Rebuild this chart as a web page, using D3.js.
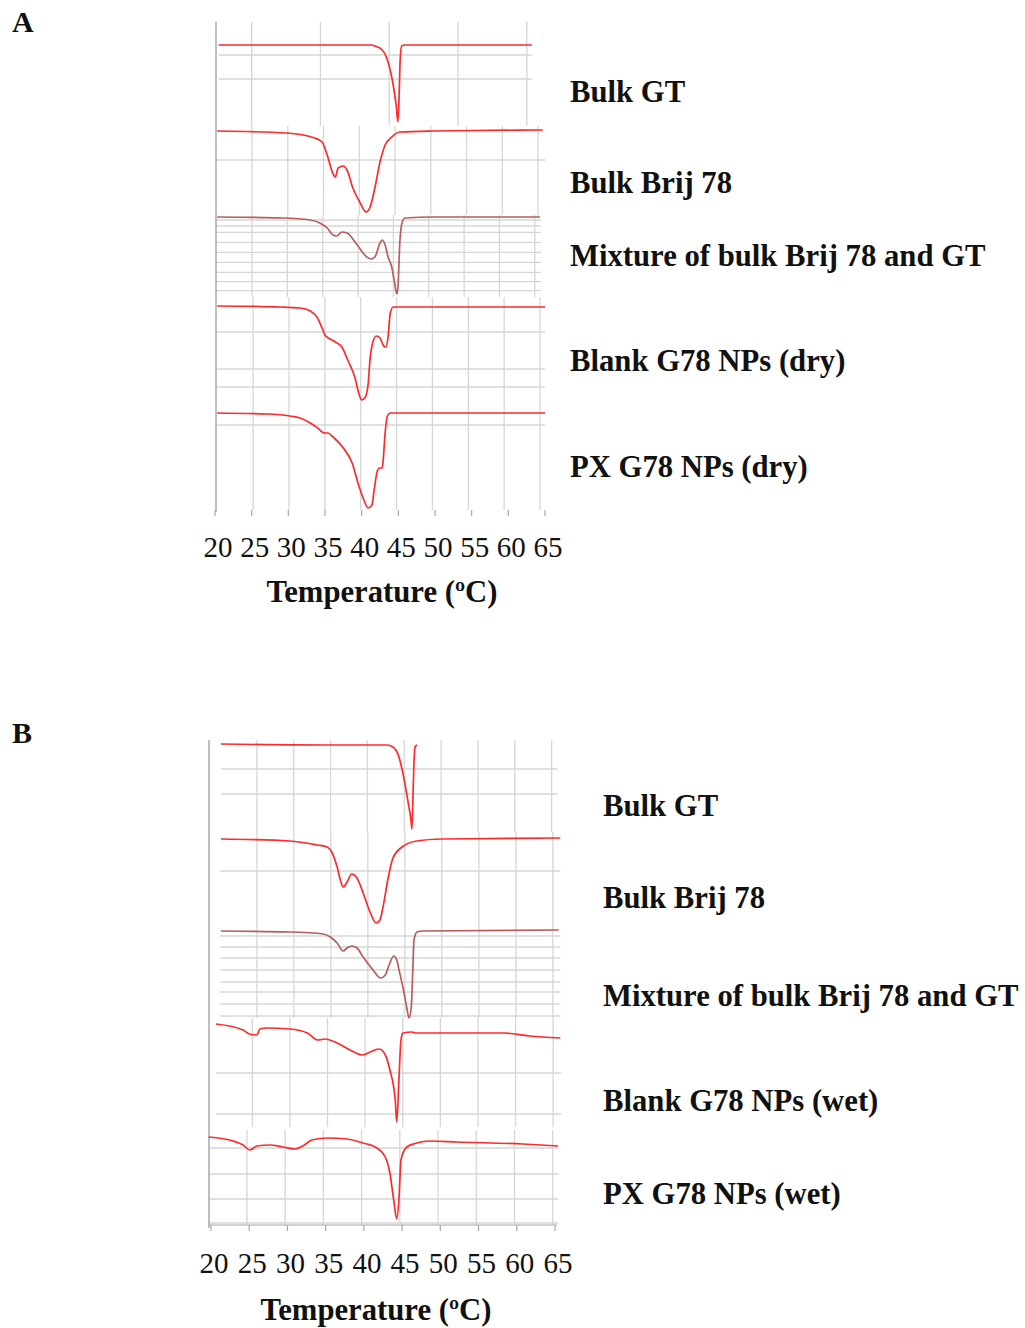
<!DOCTYPE html>
<html><head><meta charset="utf-8">
<script src="https://cdn.jsdelivr.net/npm/d3@7"></script>
<style>body{margin:0;background:#fff;} svg{display:block;}</style>
</head><body><svg id="chart" width="1025" height="1328"></svg>
<script>
// ---------------- DATA ----------------
const tickValues = [20, 25, 30, 35, 40, 45, 50, 55, 60, 65];
const panelLetters = ["A", "B"];
const axisTitle = "Temperature (ºC)";
const samplesDry = ["Bulk GT", "Bulk Brij 78", "Mixture of bulk Brij 78 and GT", "Blank G78 NPs (dry)", "PX G78 NPs (dry)"];
const samplesWet = ["Bulk GT", "Bulk Brij 78", "Mixture of bulk Brij 78 and GT", "Blank G78 NPs (wet)", "PX G78 NPs (wet)"];

// Panel A (temperature °C, heat flow arbitrary units, endo down)
const tempA_GT   = [20.5, 31.6, 38.7, 41.4, 41.8, 42.8, 43.6, 44.3, 44.7, 44.95, 45.15, 45.25, 45.45, 45.9, 63.2];
const flowA_GT   = [0, 0, 0, 0, -0.1, -0.5, -1.7, -4.0, -6.0, -7.7, -4.0, -1.5, -0.1, 0, 0];
const tempA_Brij = [20.3, 29.8, 33.6, 34.6, 35.3, 36.0, 36.4, 36.8, 37.5, 38.0, 38.8, 39.8, 40.6, 41.1, 41.8, 42.5, 43.2, 44.1, 45.2, 49.7, 64.7];
const flowA_Brij = [0, -0.2, -0.7, -1.1, -2.4, -4.1, -4.6, -3.7, -3.5, -3.9, -5.7, -7.2, -8.1, -7.7, -5.7, -3.1, -1.4, -0.6, -0.1, 0, 0.1];
const tempA_Mix  = [20.3, 29.3, 33.0, 34.3, 35.3, 36.1, 36.6, 37.3, 38.0, 39.4, 40.7, 41.3, 41.8, 42.5, 42.8, 43.2, 43.6, 44.1, 44.5, 44.8, 44.95, 45.2, 45.5, 45.9, 49.7, 64.3];
const flowA_Mix  = [0, -0.1, -0.3, -0.6, -1.1, -1.8, -1.9, -1.5, -1.6, -2.8, -4.0, -4.2, -4.0, -2.6, -2.3, -2.8, -4.0, -5.0, -6.6, -7.7, -7.0, -2.6, -0.6, -0.1, 0, 0];
const tempA_Blank = [20.3, 28.9, 31.6, 33.0, 33.9, 34.6, 35.0, 35.7, 36.4, 37.3, 38.1, 39.1, 39.6, 40.0, 40.5, 40.9, 41.1, 41.5, 42.0, 42.5, 43.0, 43.3, 43.6, 43.9, 44.3, 44.8, 65.0];
const flowA_Blank = [0, -0.1, -0.2, -0.5, -1.1, -2.2, -2.9, -3.3, -3.6, -4.1, -5.4, -7.2, -8.7, -9.4, -9.1, -7.7, -5.7, -3.7, -3.0, -3.2, -4.0, -4.1, -3.1, -0.7, -0.1, -0.1, -0.1];
const tempA_PX   = [20.3, 27.1, 30.2, 31.6, 33.0, 34.0, 34.9, 35.4, 36.1, 37.5, 38.7, 39.5, 40.2, 40.9, 41.4, 41.7, 42.1, 42.4, 42.8, 42.9, 43.2, 43.5, 43.9, 49.7, 65.0];
const flowA_PX   = [0, -0.1, -0.3, -0.5, -1.0, -1.5, -2.0, -2.0, -2.4, -3.5, -5.0, -7.0, -8.5, -9.5, -9.2, -7.7, -5.9, -5.5, -5.5, -5.0, -2.0, -0.3, 0, 0, 0];

// Panel B
const tempB_GT   = [21.3, 34.7, 40.1, 43.0, 43.8, 44.5, 45.1, 45.8, 46.16, 46.29, 46.42, 46.55, 46.69, 46.95];
const flowB_GT   = [0, -0.1, -0.1, -0.1, -0.3, -1.1, -2.9, -5.9, -7.6, -8.5, -5.3, -1.9, -0.3, -0.1];
const tempB_Brij = [21.3, 30.3, 33.9, 35.2, 35.8, 36.5, 37.0, 37.3, 37.8, 38.4, 39.1, 39.9, 40.8, 41.6, 42.1, 42.5, 43.2, 43.8, 45.0, 46.9, 50.3, 65.7];
const flowB_Brij = [0, -0.2, -0.6, -0.8, -1.3, -2.8, -4.3, -4.8, -4.3, -3.5, -3.9, -5.4, -7.3, -8.4, -8.1, -6.8, -3.8, -1.9, -0.8, -0.2, 0, 0.1];
const tempB_Mix  = [21.3, 30.3, 34.7, 35.6, 36.5, 37.3, 37.8, 38.4, 39.1, 39.9, 41.2, 42.2, 42.8, 43.3, 43.9, 44.3, 44.6, 45.1, 45.6, 45.9, 46.2, 46.4, 46.55, 46.95, 47.7, 65.5];
const flowB_Mix  = [0, -0.1, -0.3, -0.6, -1.2, -2.0, -1.7, -1.5, -1.7, -2.6, -3.9, -4.7, -4.4, -3.4, -2.5, -2.9, -3.9, -5.6, -7.6, -8.7, -7.6, -3.9, -0.9, -0.1, 0, 0.1];
const tempB_Blank = [20.65, 24.2, 25.0, 26.0, 26.4, 27.3, 30.3, 32.6, 34.0, 34.9, 36.5, 38.2, 39.8, 41.1, 42.0, 42.8, 43.4, 44.1, 44.3, 44.6, 44.85, 45.1, 46.3, 46.7, 47.7, 58.2, 61.7, 65.7];
const flowB_Blank = [0.9, 0.3, -0.1, -0.2, 0.4, 0.5, 0.4, 0, -0.7, -0.6, -1.0, -1.7, -2.2, -1.8, -1.6, -2.2, -3.7, -6.7, -8.9, -4.4, -0.7, 0, 0.1, 0, 0, 0, -0.3, -0.5];
const tempB_PX   = [19.7, 22.9, 24.2, 25.1, 26.0, 27.7, 29.4, 31.0, 32.0, 33.2, 35.2, 37.8, 39.9, 41.7, 42.8, 43.4, 43.9, 44.3, 44.6, 44.85, 45.6, 46.9, 48.6, 52.2, 60.8, 65.4];
const flowB_PX   = [0.5, 0.1, -0.3, -0.8, -0.4, -0.3, -0.5, -0.7, -0.4, 0.2, 0.4, 0.3, -0.1, -0.6, -1.5, -3.1, -5.8, -7.7, -5.5, -1.8, -0.5, -0.1, 0.1, 0, -0.2, -0.4];

// ---------------- LAYOUT ----------------
const RED = "#ff2a2a", MIXC = "#b85c5c", GRID = "#d6d6d6", AXIS = "#a8a8a8";
const panels = [
  { letter: panelLetters[0], letterY: 32, xRange: [215, 545], axisX: 216, axisTop: 22, axisBottom: 512,
    tickTop: 510, tickBottom: 516, bottomLine: false, tickLabelY: 557, titleX: 382, titleY: 602, labelX: 570,
    subs: [
      { name: samplesDry[0], t: tempA_GT, f: flowA_GT, base: 45, top: 22, bottom: 126, ext: [20.5, 63.2], hGrid: [-1.0, -3.4], vStart: 25.0, vStep: 9.38, vCount: 5, labelY: 102, color: RED },
      { name: samplesDry[1], t: tempA_Brij, f: flowA_Brij, base: 131, top: 126, bottom: 215, ext: [20.1, 65], hGrid: [-2.9], vStart: 25.05, vStep: 4.875, vCount: 9, labelY: 193, color: RED },
      { name: samplesDry[2], t: tempA_Mix, f: flowA_Mix, base: 217, top: 215, bottom: 297, ext: [20.1, 64.45], hGrid: [-0.3, -0.9, -1.53, -2.53, -3.53, -4.53, -5.53, -6.47, -7.37], vStart: 25.05, vStep: 4.82, vCount: 9, labelY: 266, color: MIXC },
      { name: samplesDry[3], t: tempA_Blank, f: flowA_Blank, base: 306, top: 297, bottom: 403, ext: [20.1, 65], hGrid: [-2.6, -6.3, -8.1], vStart: 25.2, vStep: 4.89, vCount: 9, labelY: 371, color: RED },
      { name: samplesDry[4], t: tempA_PX, f: flowA_PX, base: 413, top: 403, bottom: 510, ext: [20.1, 65], hGrid: [-1.2], vStart: 25.2, vStep: 4.89, vCount: 9, labelY: 477, color: RED }
    ] },
  { letter: panelLetters[1], letterY: 743, xRange: [211, 555], axisX: 209, axisTop: 740, axisBottom: 1228,
    tickTop: 1225, tickBottom: 1231, bottomLine: true, tickLabelY: 1273, titleX: 376, titleY: 1320, labelX: 603,
    subs: [
      { name: samplesWet[0], t: tempB_GT, f: flowB_GT, base: 744, top: 740, bottom: 832, ext: [21.3, 65.3], hGrid: [-2.5, -5.0], vStart: 26.0, vStep: 4.82, vCount: 9, labelY: 816, color: RED },
      { name: samplesWet[1], t: tempB_Brij, f: flowB_Brij, base: 839, top: 832, bottom: 925, ext: [21.2, 65.7], hGrid: [-3.2], vStart: 26.0, vStep: 4.84, vCount: 9, labelY: 908, color: RED },
      { name: samplesWet[2], t: tempB_Mix, f: flowB_Mix, base: 931, top: 925, bottom: 1018, ext: [21.2, 65.7], hGrid: [-0.5, -1.6, -2.7, -3.9, -5.1, -6.1, -7.3, -8.5], vStart: 26.0, vStep: 4.84, vCount: 9, labelY: 1006, color: MIXC },
      { name: samplesWet[3], t: tempB_Blank, f: flowB_Blank, base: 1033, top: 1018, bottom: 1127, ext: [20.65, 65.8], hGrid: [-4.0, -8.1], vStart: 25.4, vStep: 4.92, vCount: 9, labelY: 1111, color: RED },
      { name: samplesWet[4], t: tempB_PX, f: flowB_PX, base: 1142, top: 1130, bottom: 1225, ext: [19.74, 65.4], hGrid: [-0.6, -3.2, -5.7, -8.1], vStart: 24.7, vStep: 5.0, vCount: 9, labelY: 1204, color: RED }
    ] }
];

const svg = d3.select("#chart");
const SERIF = "'Liberation Serif', 'Times New Roman', serif";

panels.forEach(p => {
  const x = d3.scaleLinear().domain([tickValues[0], tickValues[tickValues.length - 1]]).range(p.xRange);
  const g = svg.append("g");

  // grids
  p.subs.forEach(s => {
    const y = d3.scaleLinear().domain([0, -10]).range([s.base, s.base + 100]);
    const vg = d3.range(s.vCount).map(i => s.vStart + i * s.vStep);
    g.append("g").selectAll("line").data(vg).join("line")
      .attr("x1", d => x(d)).attr("x2", d => x(d))
      .attr("y1", s.top).attr("y2", s.bottom)
      .attr("stroke", GRID).attr("stroke-width", 1.3);
    g.append("g").selectAll("line").data(s.hGrid).join("line")
      .attr("x1", x(s.ext[0])).attr("x2", x(s.ext[1]))
      .attr("y1", d => y(d)).attr("y2", d => y(d))
      .attr("stroke", GRID).attr("stroke-width", 1.3);
  });

  // left axis line
  g.append("line").attr("x1", p.axisX).attr("x2", p.axisX)
    .attr("y1", p.axisTop).attr("y2", p.axisBottom)
    .attr("stroke", AXIS).attr("stroke-width", 1.5);

  // ticks
  g.append("g").selectAll("line").data(tickValues).join("line")
    .attr("x1", d => x(d)).attr("x2", d => x(d))
    .attr("y1", p.tickTop).attr("y2", p.tickBottom)
    .attr("stroke", AXIS).attr("stroke-width", 1.2);
  if (p.bottomLine) {
    g.append("line").attr("x1", p.axisX).attr("x2", x(tickValues[tickValues.length - 1]) + 2)
      .attr("y1", p.tickTop).attr("y2", p.tickTop)
      .attr("stroke", AXIS).attr("stroke-width", 1.2);
  }

  // curves
  p.subs.forEach(s => {
    const y = d3.scaleLinear().domain([0, -10]).range([s.base, s.base + 100]);
    const pts = s.t.map((t, i) => [t, s.f[i]]);
    const line = d3.line().x(d => x(d[0])).y(d => y(d[1])).curve(d3.curveMonotoneX);
    g.append("path").attr("d", line(pts)).attr("fill", "none")
      .attr("stroke", s.color).attr("stroke-width", 1.7).attr("stroke-linejoin", "round");
    g.append("text").attr("x", p.labelX).attr("y", s.labelY)
      .attr("font-family", SERIF).attr("font-weight", "bold").attr("font-size", 30.7)
      .attr("fill", "#111").text(s.name);
  });

  // tick labels
  g.append("g").selectAll("text").data(tickValues).join("text")
    .attr("x", d => x(d) + 3).attr("y", p.tickLabelY)
    .attr("text-anchor", "middle").attr("font-family", SERIF).attr("font-size", 29)
    .attr("fill", "#111").text(d => d);

  // axis title
  g.append("text").attr("x", p.titleX).attr("y", p.titleY).attr("text-anchor", "middle")
    .attr("font-family", SERIF).attr("font-weight", "bold").attr("font-size", 30.7)
    .attr("fill", "#111").text(axisTitle);

  // panel letter
  g.append("text").attr("x", 12).attr("y", p.letterY)
    .attr("font-family", SERIF).attr("font-weight", "bold").attr("font-size", 30)
    .attr("fill", "#111").text(p.letter);
});
</script>
</body></html>
